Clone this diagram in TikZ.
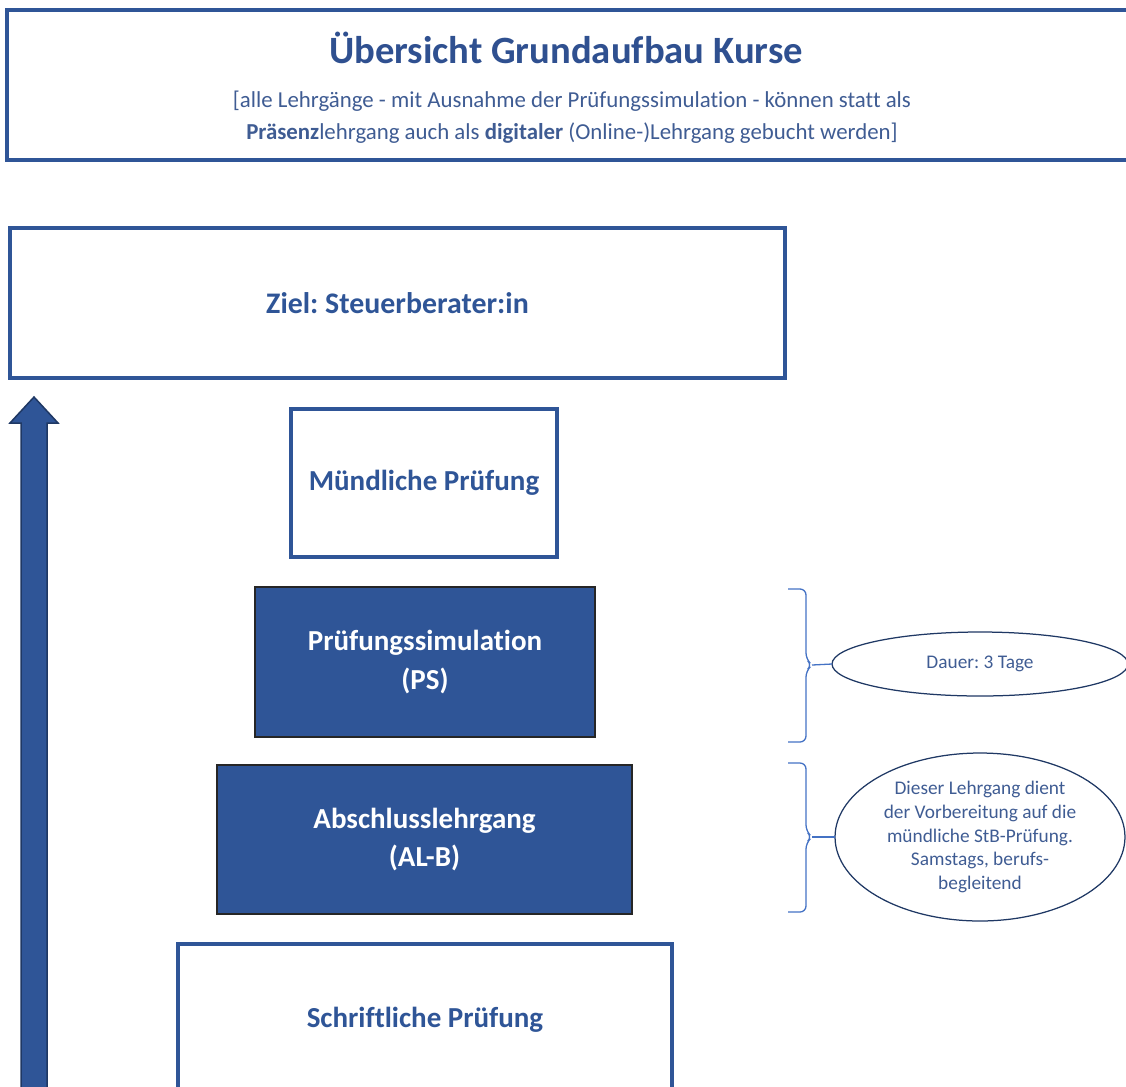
\documentclass[tikz,border=0pt]{standalone}
\usepackage{fontspec}
\setmainfont[Ligatures={TeX,NoCommon}]{Carlito}
\usetikzlibrary{shapes.geometric}
\definecolor{mblue}{HTML}{2F5597}
\definecolor{tblue}{HTML}{2F5090}
\definecolor{sblue}{HTML}{3F5C93}
\definecolor{bblue}{HTML}{4472C4}
\definecolor{edark}{HTML}{1F3864}
\begin{document}
\frenchspacing
\begin{tikzpicture}[x=0.02cm,y=-0.02cm,
  wbox/.style={draw=mblue, line width=0.08cm, fill=white, inner sep=0pt, outer sep=0pt,
    text=mblue, font=\bfseries\fontsize{16.5}{22}\selectfont, align=center},
  fbox/.style={draw=black!85, line width=0.05cm, fill=mblue, inner sep=0pt, outer sep=0pt,
    text=white, font=\bfseries\fontsize{16.5}{22}\selectfont, align=center},
  note/.style={ellipse, draw=edark, line width=0.025cm, inner sep=0pt, outer sep=0pt,
    text=sblue, font=\fontsize{11}{13.6}\selectfont, align=center},
  brace/.style={draw=bblue, line width=0.026cm, rounded corners=0.12cm},
  bigarrow/.style={fill=mblue, draw=edark, line width=0.03cm}
  ]
\useasboundingbox (0,0) rectangle (1126,1086);
\clip (0,0) rectangle (1126,1086);
% title box
\node[draw=mblue, line width=0.08cm, minimum width=22.76cm, minimum height=3cm, inner sep=0pt] (titlebox) at (576,85) {};
\node[text=tblue, font=\bfseries\fontsize{22}{26}\selectfont, inner sep=0pt] (title) at (566,48) {Übersicht Grundaufbau Kurse};
\node[text=sblue, font=\fontsize{13}{18}\selectfont, align=center, inner sep=0pt] (subtitle) at (572,117)
  {[alle Lehrgänge - mit Ausnahme der Prüfungssimulation - können statt als\\
   \textbf{Präsenz}lehrgang auch als \textbf{digitaler} (Online-)Lehrgang gebucht werden]};
% boxes
\node[wbox, minimum width=15.5cm, minimum height=3cm, font=\bfseries\fontsize{17}{22}\selectfont] (ziel) at (397.5,303) {Ziel: Steuerberater:in};
\node[wbox, minimum width=5.32cm, minimum height=2.96cm] (muendl) at (424,483) {Mündliche Prüfung};
\node[fbox, minimum width=6.8cm, minimum height=3cm] (ps) at (425,662) {Prüfungssimulation\\(PS)};
\node[fbox, minimum width=8.3cm, minimum height=2.98cm] (al) at (424.5,839.5) {Abschlusslehrgang\\(AL-B)};
\node[wbox, minimum width=9.88cm, minimum height=3.04cm] (schrift) at (425,1020) {Schriftliche Prüfung};
% big arrow
\fill[bigarrow] (34,397) -- (58,423) -- (47,423) -- (47,1100) -- (21,1100) -- (21,423) -- (10,423) -- cycle;
% notes
\node[note, minimum width=5.92cm, minimum height=1.28cm] (e1) at (980,664) {Dauer: 3 Tage};
\node[note, minimum width=5.8cm, minimum height=3.36cm] (e2) at (980,837)
  {Dieser Lehrgang dient\\der Vorbereitung auf die\\mündliche StB-Prüfung.\\Samstags, berufs-\\begleitend};
% braces
\coordinate (b1) at (812,665);
\coordinate (b2) at (812,837);
\draw[brace] (788,589) -- (806,589) -- (806,659) -- (b1) -- (806,671) -- (806,742) -- (788,742);
\draw[brace] (788,763) -- (806,763) -- (806,831) -- (b2) -- (806,843) -- (806,912) -- (788,912);
\draw[draw=bblue, line width=0.026cm] (b1) -- (e1.west);
\draw[draw=bblue, line width=0.026cm] (b2) -- (e2.west);
\end{tikzpicture}
\end{document}
